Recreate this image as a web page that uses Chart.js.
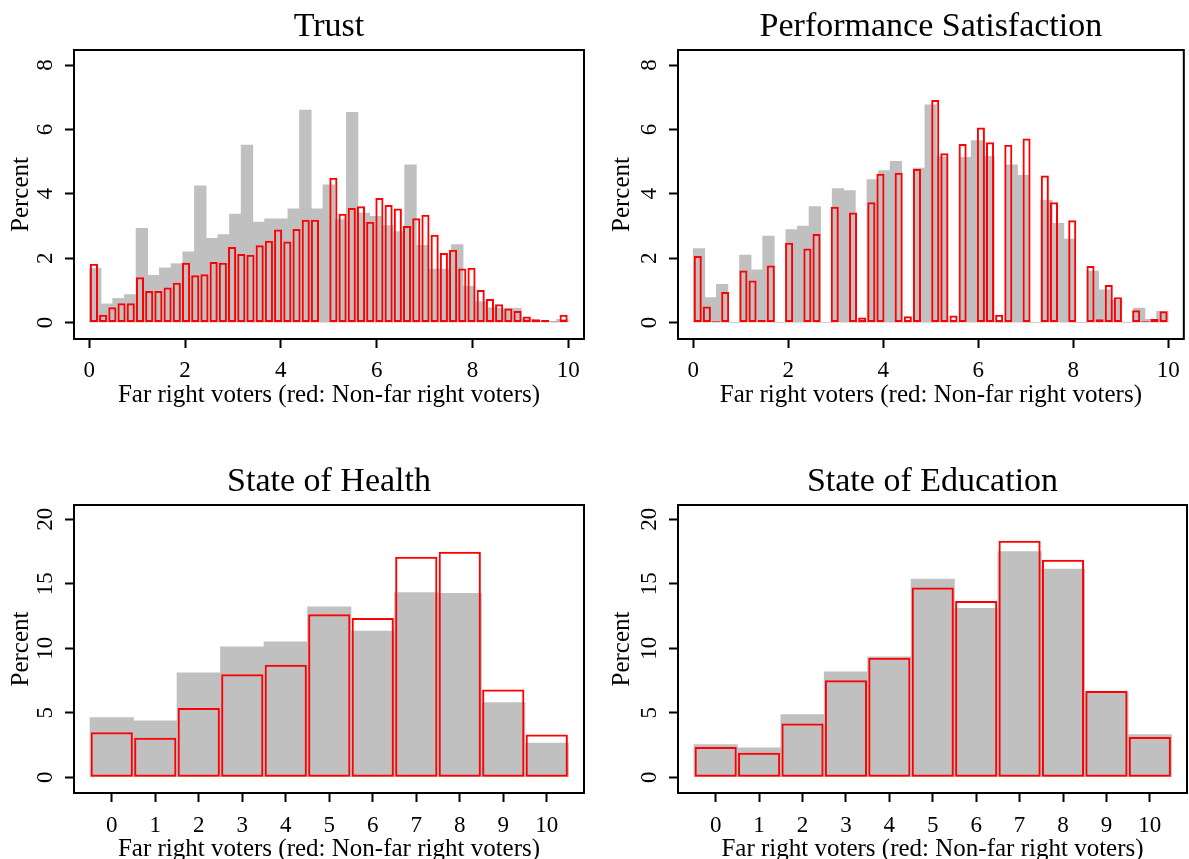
<!DOCTYPE html>
<html>
<head>
<meta charset="utf-8">
<script src="https://cdn.jsdelivr.net/npm/chart.js@4.4.1/dist/chart.umd.min.js"></script>
<style>
  html, body { margin: 0; padding: 0; background: #ffffff; overflow: hidden; width: 1189px; height: 859px; }
  .panel { position: absolute; }
</style>
</head>
<body>
<div class="panel" style="left:0px;top:0px;"><canvas id="c1" width="594" height="420"></canvas></div>
<div class="panel" style="left:594px;top:0px;"><canvas id="c2" width="595" height="420"></canvas></div>
<div class="panel" style="left:0px;top:430px;"><canvas id="c3" width="594" height="440"></canvas></div>
<div class="panel" style="left:594px;top:430px;"><canvas id="c4" width="595" height="440"></canvas></div>
<script>
// ---------------- DATA ----------------
const xTitle = 'Far right voters (red: Non-far right voters)';
const yTitle = 'Percent';

// histogram bins for the 0-10 index panels
const indexRange = [0, 10];
const farRightBinCount = 41;      // grey bars
const nonFarRightBinCount = 52;   // red outlined bars

// Trust (percent per bin)
const trustFarRight = [1.68, 0.58, 0.75, 0.87, 2.93, 1.47, 1.70, 1.83, 2.20, 4.25,
  2.62, 2.73, 3.37, 5.51, 3.12, 3.22, 3.22, 3.53, 6.60, 3.53,
  4.28, 3.20, 6.53, 3.40, 3.30, 3.01, 2.83, 4.90, 2.40, 1.66,
  1.66, 2.42, 1.13, 0.65, 0.46, 0.44, 0.44, 0.11, 0.05, 0.03, 0.10];
const trustNonFarRight = [1.83, 0.24, 0.48, 0.60, 0.60, 1.41, 0.98, 0.98, 1.09, 1.24,
  1.86, 1.47, 1.50, 1.88, 1.86, 2.35, 2.13, 2.11, 2.40, 2.54,
  2.89, 2.52, 2.91, 3.19, 3.19, 0, 4.50, 3.38, 3.56, 3.61,
  3.13, 3.87, 3.65, 3.54, 3.00, 3.24, 3.35, 2.73, 2.16, 2.26,
  1.68, 1.70, 1.01, 0.73, 0.57, 0.44, 0.36, 0.19, 0.10, 0.08, 0.03, 0.24];

// Performance Satisfaction
const perfFarRight = [2.30, 0.78, 1.19, 0, 2.10, 1.64, 2.69, 0, 2.89, 3.00,
  3.60, 0, 4.16, 4.10, 0, 4.44, 4.72, 5.01, 0, 4.80,
  6.76, 5.15, 0, 5.13, 5.65, 5.16, 0, 4.90, 4.57, 0,
  3.80, 3.08, 2.59, 0, 1.60, 1.02, 0.70, 0, 0.45, 0.10, 0.35];
const perfNonFarRight = [2.07, 0.50, 0.04, 0.95, 0, 1.62, 1.31, 0.08, 1.77, 0,
  2.48, 0, 2.30, 2.75, 0, 3.60, 0, 3.42, 0.16, 3.74,
  4.62, 0, 4.65, 0.20, 4.77, 0, 6.91, 5.26, 0.22, 5.55,
  0, 6.06, 5.60, 0.24, 5.52, 0, 5.72, 0, 4.57, 3.74,
  0, 3.18, 0, 1.76, 0.10, 1.17, 0.79, 0, 0.38, 0.04, 0.11, 0.35];

// 0-10 score panels
const scoreCategories = [0, 1, 2, 3, 4, 5, 6, 7, 8, 9, 10];
const healthFarRight    = [4.63, 4.37, 8.10, 10.12, 10.50, 13.22, 11.33, 14.31, 14.26, 5.80, 2.66];
const healthNonFarRight = [3.49, 3.07, 5.38, 7.99, 8.72, 12.63, 12.34, 17.10, 17.49, 6.80, 3.31];
const eduFarRight       = [2.54, 2.28, 4.86, 8.18, 9.34, 15.37, 13.09, 17.49, 16.14, 6.62, 3.30];
const eduNonFarRight    = [2.35, 1.91, 4.17, 7.53, 9.26, 14.72, 13.66, 18.34, 16.86, 6.68, 3.13];

// tick labels
const indexXTicks = [0, 2, 4, 6, 8, 10];
const indexYTicks = [0, 2, 4, 6, 8];
const scoreXTicks = [0, 1, 2, 3, 4, 5, 6, 7, 8, 9, 10];
const scoreYTicks = [0, 5, 10, 15, 20];

// ---------------- HELPERS ----------------
function binCenters(range, n) {
  const w = (range[1] - range[0]) / n;
  return Array.from({ length: n }, (_, i) => range[0] + w * (i + 0.5));
}
function points(xs, ys) { return xs.map((x, i) => ({ x: x, y: ys[i] })); }

const FONT = "'Liberation Serif', 'Times New Roman', serif";
const GREY = '#c0c0c0';
const RED = '#ff0000';

const framePlugin = {
  id: 'frame',
  afterDatasetsDraw(chart) {
    const a = chart.chartArea, ctx = chart.ctx;
    ctx.save();
    ctx.strokeStyle = '#000';
    ctx.lineWidth = 2;
    ctx.strokeRect(a.left, a.top, a.right - a.left, a.bottom - a.top);
    ctx.restore();
  }
};

function makeChart(id, cfg) {
  const gridCfg = { display: true, offset: false, drawOnChartArea: false, drawTicks: true, tickLength: 9, tickWidth: 2, tickColor: '#000', color: '#000' };
  const setXTicks = s => { s.ticks = cfg.xTicks.map(v => ({ value: v })); };
  new Chart(document.getElementById(id), {
    type: 'bar',
    data: {
      datasets: [
        { label: 'Non-far right voters', data: points(cfg.redX, cfg.redY), xAxisID: 'x2',
          backgroundColor: 'rgba(0,0,0,0)', borderColor: RED, borderWidth: 2, borderSkipped: false,
          barPercentage: cfg.redBarPct, categoryPercentage: 1, grouped: false, order: 1 },
        { label: 'Far right voters', data: points(cfg.greyX, cfg.greyY), xAxisID: 'x',
          backgroundColor: GREY, borderWidth: 0,
          barPercentage: 1, categoryPercentage: 1, grouped: false, order: 2 }
      ]
    },
    options: {
      responsive: false, animation: false, devicePixelRatio: 1,
      layout: { padding: { top: cfg.padTop, right: cfg.padRight, bottom: 0, left: 0 } },
      plugins: {
        legend: { display: false },
        tooltip: { enabled: false },
        title: { display: true, text: cfg.title, fullSize: false, color: '#000',
          font: { family: FONT, size: 34, weight: 'normal', lineHeight: 1 },
          padding: { top: 10, bottom: 6 } }
      },
      scales: {
        x: {
          type: 'linear', position: 'bottom', min: cfg.xMin, max: cfg.xMax, offset: false,
          afterBuildTicks: setXTicks,
          afterFit: s => { s.height = cfg.xHeight; },
          grid: gridCfg, border: { display: false },
          ticks: { autoSkip: false, minRotation: 0, maxRotation: 0, padding: cfg.xTickPad, color: '#000',
            font: { family: FONT, size: 23 }, callback: v => String(v) },
          title: { display: true, text: xTitle, color: '#000', font: { family: FONT, size: 25 },
            padding: { top: 0, bottom: cfg.xTitlePad } }
        },
        x2: { type: 'linear', position: 'bottom', min: cfg.xMin, max: cfg.xMax, offset: false,
          afterBuildTicks: setXTicks, display: false, grid: { offset: false } },
        y: {
          type: 'linear', position: 'left', min: cfg.yMin, max: cfg.yMax,
          afterBuildTicks: s => { s.ticks = cfg.yTicks.map(v => ({ value: v })); },
          afterFit: s => { s.width = cfg.yWidth; },
          grid: gridCfg, border: { display: false },
          ticks: { autoSkip: false, minRotation: 90, maxRotation: 90, crossAlign: 'center', padding: cfg.yTickPad,
            color: '#000', font: { family: FONT, size: 23 }, callback: v => String(v) },
          title: { display: true, text: yTitle, color: '#000', font: { family: FONT, size: 25 },
            padding: { top: cfg.yTitlePad, bottom: 0 } }
        }
      }
    },
    plugins: [framePlugin]
  });
}

const indexGreyX = binCenters(indexRange, farRightBinCount);
const indexRedX = binCenters(indexRange, nonFarRightBinCount);

const topCommon = { padTop: 0, xMin: -0.32, xMax: 10.33, yMin: -0.51, yMax: 8.466,
  xTicks: indexXTicks, yTicks: indexYTicks, xHeight: 81, xTickPad: 9.2, xTitlePad: 10,
  yTickPad: 13.2, redBarPct: 0.88 };
const botCommon = { padTop: 25, xMin: -0.868, xMax: 10.856, yMin: -1.22, yMax: 21.11,
  xTicks: scoreXTicks, yTicks: scoreYTicks, xHeight: 77, xTickPad: 10.2, xTitlePad: 6,
  yTickPad: 7.5, redBarPct: 0.97 };

makeChart('c1', Object.assign({}, topCommon, { title: 'Trust', padRight: 10, yWidth: 74, yTitlePad: 6,
  greyX: indexGreyX, greyY: trustFarRight, redX: indexRedX, redY: trustNonFarRight }));
makeChart('c2', Object.assign({}, topCommon, { title: 'Performance Satisfaction', padRight: 2, yWidth: 84, yTitlePad: 13,
  greyX: indexGreyX, greyY: perfFarRight, redX: indexRedX, redY: perfNonFarRight }));
makeChart('c3', Object.assign({}, botCommon, { title: 'State of Health', padRight: 10, yWidth: 74, yTitlePad: 6,
  greyX: scoreCategories, greyY: healthFarRight, redX: scoreCategories, redY: healthNonFarRight }));
makeChart('c4', Object.assign({}, botCommon, { title: 'State of Education', padRight: 2, yWidth: 84, yTitlePad: 13,
  greyX: scoreCategories, greyY: eduFarRight, redX: scoreCategories, redY: eduNonFarRight }));
</script>
</body>
</html>
